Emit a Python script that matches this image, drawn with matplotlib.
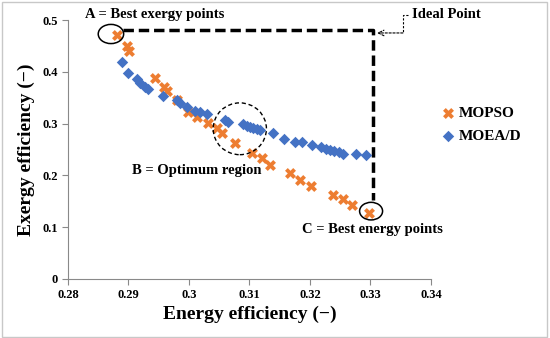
import matplotlib.pyplot as plt
from matplotlib.patches import Ellipse, Rectangle

plt.rcParams['font.family'] = ['Liberation Serif', 'DejaVu Serif']
plt.rcParams['font.weight'] = 'bold'
plt.rcParams['axes.labelweight'] = 'bold'

# MOPSO Pareto front (energy eff., exergy eff.)
mopso_x = [0.2881, 0.2898, 0.2901, 0.2944, 0.2958, 0.2963, 0.2980, 0.2998,
           0.3013, 0.3031, 0.3046, 0.3055, 0.3076, 0.3104, 0.3121, 0.3134,
           0.3167, 0.3183, 0.3202, 0.3238, 0.3255, 0.3269, 0.3298]
mopso_y = [0.471, 0.449, 0.441, 0.388, 0.370, 0.363, 0.346, 0.322,
           0.313, 0.301, 0.291, 0.282, 0.262, 0.243, 0.234, 0.220,
           0.205, 0.191, 0.180, 0.162, 0.154, 0.143, 0.127]

# MOEA/D Pareto front
moead_x = [0.2889, 0.2899, 0.2914, 0.2919, 0.2927, 0.2932, 0.2957, 0.2980,
           0.2985, 0.2997, 0.3010, 0.3018, 0.3030, 0.3060, 0.3064, 0.3089,
           0.3096, 0.3101, 0.3106, 0.3112, 0.3117, 0.3139, 0.3157, 0.3175,
           0.3187, 0.3203, 0.3219, 0.3227, 0.3233, 0.3240, 0.3248, 0.3255,
           0.3276, 0.3293]
moead_y = [0.419, 0.398, 0.386, 0.378, 0.371, 0.367, 0.353, 0.345,
           0.339, 0.332, 0.324, 0.322, 0.319, 0.306, 0.303, 0.299,
           0.296, 0.293, 0.291, 0.289, 0.287, 0.281, 0.271, 0.265,
           0.264, 0.258, 0.255, 0.251, 0.249, 0.247, 0.245, 0.242,
           0.241, 0.240]

x_ticks = [0.28, 0.29, 0.30, 0.31, 0.32, 0.33, 0.34]
y_ticks = [0, 0.1, 0.2, 0.3, 0.4, 0.5]

ORANGE = '#ED7D31'
BLUE = '#4472C4'
GRAY = '#898989'

fig = plt.figure(figsize=(5.5, 3.38), dpi=100)
ax = fig.add_axes([0.1236, 0.1746, 0.66, 0.7662])

ax.scatter(mopso_x, mopso_y, marker='X', s=62, color=ORANGE, linewidths=0,
           label='MOPSO', zorder=3)
ax.scatter(moead_x, moead_y, marker='D', s=34, color=BLUE, linewidths=0,
           label='MOEA/D', zorder=3)

ax.set_xlim(0.28, 0.34)
ax.set_ylim(0, 0.5)
ax.set_xticks(x_ticks)
ax.set_yticks(y_ticks)
ax.set_xticklabels([f'{v:g}' for v in x_ticks])
ax.set_yticklabels([f'{v:g}' for v in y_ticks])
ax.tick_params(labelsize=9, color=GRAY, length=4, width=0.8)
for side in ['top', 'right']:
    ax.spines[side].set_visible(False)
for side in ['left', 'bottom']:
    ax.spines[side].set_color(GRAY)
    ax.spines[side].set_linewidth(0.8)

ax.set_xlabel('Energy efficiency (\u2212)', fontsize=14, labelpad=3)
ax.set_ylabel('Exergy efficiency (\u2212)', fontsize=14, labelpad=5)

# ideal point frame
ax.plot([0.2891, 0.3304, 0.3304], [0.481, 0.481, 0.152], color='black',
        lw=2.5, ls=(0, (3, 1.4)), clip_on=False, zorder=2)

# marked regions
ax.add_patch(Ellipse((0.2871, 0.473), 0.0042, 0.037, fill=False,
                     ec='black', lw=1.1, clip_on=False, zorder=4))
ax.add_patch(Ellipse((0.3084, 0.290), 0.0088, 0.100, fill=False,
                     ec='black', lw=1.0, ls=(0, (3, 2)), zorder=4))
ax.add_patch(Ellipse((0.3301, 0.131), 0.0038, 0.034, fill=False,
                     ec='black', lw=1.1, zorder=4))

ax.text(0.2828, 0.510, 'A = Best exergy points', fontsize=10.5,
        ha='left', va='center', clip_on=False)
ax.text(0.3013, 0.210, 'B = Optimum region', fontsize=10.5,
        ha='center', va='center')
ax.text(0.3304, 0.095, 'C = Best energy points', fontsize=10.5,
        ha='center', va='center')

# ideal point callout
ax.plot([0.3362, 0.33536, 0.33536], [0.510, 0.510, 0.475], color='black',
        lw=0.8, ls=(0, (2, 1.5)), clip_on=False)
ax.annotate('', xy=(0.3311, 0.475), xytext=(0.33536, 0.475),
            arrowprops=dict(arrowstyle='->', lw=0.8, ls=(0, (2, 1.5)),
                            color='black', shrinkA=0, shrinkB=0),
            annotation_clip=False)
ax.text(0.3369, 0.510, 'Ideal Point', fontsize=10.5, ha='left',
        va='center', clip_on=False)

fig.legend(loc='center left', bbox_to_anchor=(0.804, 0.632), frameon=False,
           fontsize=11, handlelength=0.8, handletextpad=0.3,
           labelspacing=0.6, borderpad=0, borderaxespad=0)

fig.patches.append(Rectangle((0.003, 0.004), 0.992, 0.99,
                             transform=fig.transFigure, fill=False,
                             ec='#c8c8c8', lw=1.0))

fig.savefig('out.png', dpi=100)
